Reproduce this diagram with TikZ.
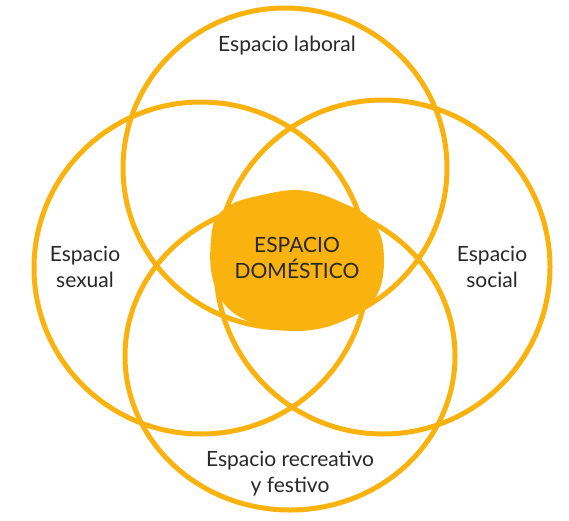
\documentclass[tikz,border=0pt]{standalone}
\usepackage{fontspec}
\setmainfont{Lato}
\usetikzlibrary{shapes, positioning}
\definecolor{amber}{RGB}{249,178,14}
\definecolor{ink}{RGB}{40,40,40}

\begin{document}
\begin{tikzpicture}[x=1pt, y=-1pt,
    ring/.style={ellipse, draw=amber, line width=5pt, inner sep=0pt},
    every node/.style={text=ink, font=\fontsize{21}{26}\selectfont, align=center}]
      \useasboundingbox (0, 0) rectangle (569, 520);
      % the four spaces
      \node[ring, minimum width=324pt, minimum height=320pt] (laboral) at (285, 168) {};
      \node[ring, minimum width=334pt, minimum height=332pt] (sexual) at (201, 268) {};
      \node[ring, minimum width=334pt, minimum height=334pt] (social) at (383, 267) {};
      \node[ring, minimum width=330pt, minimum height=308pt] (recreativo) at (290, 356) {};
      % the domestic space in the middle
      \fill[amber] plot[smooth cycle, tension=.6] coordinates {(216, 218) (234, 203) (262, 195) (293, 190) (320, 194) (345, 204) (366, 215) (380, 234) (384, 260) (380, 288) (365, 309) (330, 326) (295, 331) (262, 326) (235, 314) (219, 296) (211, 270) (211, 240)};
      \node (domestico) at (297, 258) {ESPACIO\\DOMÉSTICO};
      % labels
      \node (tlaboral) at (287, 46) {Espacio laboral};
      \node (tsexual) at (85, 267) {Espacio\\sexual};
      \node (tsocial) at (492, 267) {Espacio\\social};
      \node (trecreativo) at (290, 474) {Espacio recreativo\\y festivo};
    \end{tikzpicture}
\end{document}
